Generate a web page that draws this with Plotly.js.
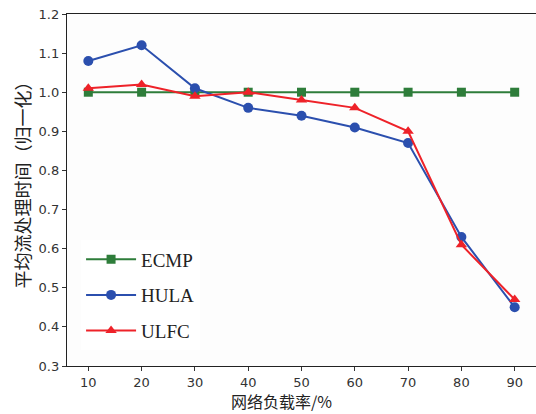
<!DOCTYPE html>
<html>
<head>
<meta charset="utf-8">
<script src="https://cdn.plot.ly/plotly-3.0.1.min.js"></script>
<style>html,body{margin:0;padding:0;background:#fff;}#chart{width:536px;height:414px;}</style>
</head>
<body>
<div id="chart"></div>
<script>
const loads = [10, 20, 30, 40, 50, 60, 70, 80, 90];
const ecmp = [1.00, 1.00, 1.00, 1.00, 1.00, 1.00, 1.00, 1.00, 1.00];
const hula = [1.08, 1.12, 1.01, 0.96, 0.94, 0.91, 0.87, 0.63, 0.45];
const ulfc = [1.01, 1.02, 0.99, 1.00, 0.98, 0.96, 0.90, 0.61, 0.47];
const xTicks = [10, 20, 30, 40, 50, 60, 70, 80, 90];
const yTicks = [0.3, 0.4, 0.5, 0.6, 0.7, 0.8, 0.9, 1.0, 1.1, 1.2];
const xTitle = '网络负载率/%';
const yTitle = '平均流处理时间（归一化）';

const traces = [
  {x: loads, y: ecmp, name: 'ECMP', mode: 'lines+markers', legendgroup: 'a',
   line: {color: '#2e7d3a', width: 2}, marker: {symbol: 'square', size: 9, color: '#2e7d3a'}},
  {x: loads, y: hula, name: 'HULA', mode: 'lines+markers', legendgroup: 'b',
   line: {color: '#2b4fae', width: 2}, marker: {symbol: 'circle', size: 10, color: '#2b4fae'}},
  {x: loads, y: ulfc, name: 'ULFC', mode: 'lines+markers', legendgroup: 'c',
   line: {color: '#ee2229', width: 2}, marker: {symbol: 'triangle-up', size: 10, color: '#ee2229'}}
];

const layout = {
  width: 536, height: 414,
  margin: {l: 67, r: 0, t: 14, b: 48},
  paper_bgcolor: '#ffffff',
  plot_bgcolor: '#fdfdfd',
  font: {family: 'DejaVu Sans', size: 13, color: '#333333'},
  xaxis: {
    range: [6, 94], tickvals: xTicks, ticktext: xTicks.map(String),
    showgrid: false, zeroline: false, showline: true, linecolor: '#222', linewidth: 1.2,
    mirror: true, ticks: 'outside', ticklen: 4, tickcolor: '#333',
    tickfont: {family: 'DejaVu Sans', size: 13, color: '#333'}
  },
  yaxis: {
    range: [0.3, 1.2], tickvals: yTicks, ticktext: yTicks.map(v => v.toFixed(1)),
    showgrid: false, zeroline: false, showline: true, linecolor: '#222', linewidth: 1.2,
    mirror: true, ticks: 'outside', ticklen: 4, tickcolor: '#333',
    tickfont: {family: 'DejaVu Sans', size: 13, color: '#333'}
  },
  showlegend: true,
  legend: {
    x: 0.03, y: 0.357, xanchor: 'left', yanchor: 'top',
    bgcolor: '#ffffff', borderwidth: 0,
    traceorder: 'grouped', tracegroupgap: 8, itemwidth: 50,
    font: {family: 'Liberation Serif', size: 19, color: '#222'}
  },
  annotations: [
    {text: xTitle, xref: 'paper', yref: 'paper', x: 0.458, y: -0.1, xanchor: 'center', yanchor: 'middle',
     showarrow: false, font: {family: 'Noto Sans CJK SC', size: 16, color: '#222'}},
    {text: yTitle, xref: 'paper', yref: 'paper', x: -0.095, y: 0.528, xanchor: 'center', yanchor: 'middle',
     textangle: -90, showarrow: false, font: {family: 'Noto Sans CJK SC', size: 18, color: '#222'}}
  ]
};

Plotly.newPlot('chart', traces, layout, {displayModeBar: false, staticPlot: true});
</script>
</body>
</html>
